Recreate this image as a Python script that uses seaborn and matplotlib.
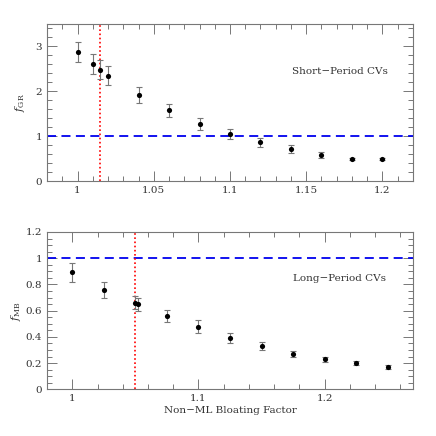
import matplotlib
matplotlib.use("Agg")
import matplotlib.pyplot as plt
import seaborn as sns
import pandas as pd
from matplotlib.ticker import MultipleLocator, FuncFormatter

# Short-period CVs
sp_bloat = [1.0, 1.01, 1.015, 1.02, 1.04, 1.06, 1.08, 1.10, 1.12, 1.14, 1.16, 1.18, 1.20]
sp_fgr = [2.87, 2.61, 2.48, 2.35, 1.92, 1.58, 1.28, 1.05, 0.875, 0.72, 0.585, 0.50, 0.50]
sp_err = [0.22, 0.22, 0.21, 0.21, 0.17, 0.15, 0.13, 0.11, 0.10, 0.08, 0.06, 0.03, 0.03]

# Long-period CVs
lp_bloat = [1.0, 1.025, 1.0495, 1.052, 1.075, 1.10, 1.125, 1.15, 1.175, 1.20, 1.225, 1.25]
lp_fmb = [0.893, 0.760, 0.661, 0.649, 0.560, 0.478, 0.392, 0.330, 0.270, 0.229, 0.200, 0.170]
lp_err = [0.073, 0.060, 0.050, 0.050, 0.045, 0.047, 0.040, 0.030, 0.025, 0.020, 0.015, 0.015]

sp_vline = 1.015
lp_vline = 1.05

sns.set_style("ticks")
plt.rcParams['font.family'] = ['DejaVu Serif']
plt.rcParams['mathtext.fontset'] = 'dejavuserif'

fig = plt.figure(figsize=(4.36, 4.36), dpi=100)
ax1 = fig.add_axes([0.108, 0.584, 0.839, 0.361])
ax2 = fig.add_axes([0.108, 0.107, 0.839, 0.361])

gray = '#777777'
txtc = '#333333'

def fmt(v, pos):
    s = ('%.2f' % v).rstrip('0').rstrip('.')
    return s

def style(ax, xmaj, xmin, ymaj, ymin):
    for sp in ax.spines.values():
        sp.set_visible(True)
        sp.set_color(gray)
        sp.set_linewidth(0.8)
    ax.xaxis.set_major_locator(MultipleLocator(xmaj))
    ax.xaxis.set_minor_locator(MultipleLocator(xmin))
    ax.yaxis.set_major_locator(MultipleLocator(ymaj))
    ax.yaxis.set_minor_locator(MultipleLocator(ymin))
    ax.xaxis.set_major_formatter(FuncFormatter(fmt))
    ax.yaxis.set_major_formatter(FuncFormatter(fmt))
    ax.tick_params(which='both', direction='in', top=True, right=True,
                   color=gray, labelcolor=txtc, labelsize=7.5, width=0.7)
    ax.tick_params(which='major', length=7)
    ax.tick_params(which='minor', length=3.5)

df1 = pd.DataFrame({'x': sp_bloat, 'y': sp_fgr, 'e': sp_err})
df2 = pd.DataFrame({'x': lp_bloat, 'y': lp_fmb, 'e': lp_err})

for ax, df, vx in [(ax1, df1, sp_vline), (ax2, df2, lp_vline)]:
    ax.errorbar(df['x'], df['y'], yerr=df['e'], fmt='none', ecolor=gray,
                elinewidth=0.8, capsize=2, capthick=0.8, zorder=2)
    sns.scatterplot(data=df, x='x', y='y', ax=ax, color='black', s=14,
                    edgecolor='black', linewidth=0, zorder=3)
    ax.axhline(1.0, color='#0000ee', ls=(0, (5, 3)), lw=1.3, zorder=1)
    ax.axvline(vx, color='#ff0000', ls=(0, (1, 1.5)), lw=1.2, zorder=1)

ax1.set_xlim(0.98, 1.22)
ax1.set_ylim(0, 3.5)
style(ax1, 0.05, 0.01, 1, 0.2)
ax1.set_xlabel('')
ax1.set_ylabel(r'$f_{\rm GR}$', fontsize=8, color=txtc, labelpad=6)
ax1.text(1.2036, 2.45, 'Short\u2212Period CVs', ha='right', va='center',
         fontsize=7.5, color=txtc)

ax2.set_xlim(0.98, 1.27)
ax2.set_ylim(0, 1.2)
style(ax2, 0.1, 0.02, 0.2, 0.05)
ax2.set_xlabel('Non\u2212ML Bloating Factor', fontsize=7.5, color=txtc, labelpad=2)
ax2.set_ylabel(r'$f_{\rm MB}$', fontsize=8, color=txtc, labelpad=2)
ax2.text(1.249, 0.847, 'Long\u2212Period CVs', ha='right', va='center',
         fontsize=7.5, color=txtc)

fig.savefig('out.png', dpi=100)
